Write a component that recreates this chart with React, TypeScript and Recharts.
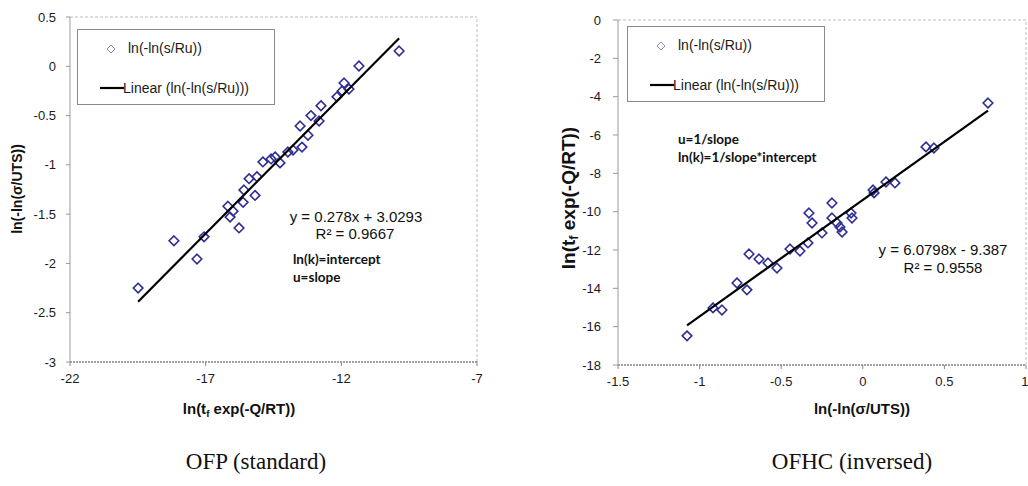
import React from "react";
import { Legend, ReferenceLine, Scatter, ScatterChart, XAxis, YAxis } from "recharts";

// OFP (standard): x = ln(tf exp(-Q/RT)), y = ln(-ln(sigma/UTS))
const ofpX = [-19.49, -18.17, -17.32, -17.06, -16.18, -16.1, -15.99, -15.77, -15.62, -15.59, -15.4, -15.18, -15.11, -14.89, -14.59, -14.44, -14.26, -13.97, -13.78, -13.52, -13.45, -13.23, -13.12, -12.82, -12.75, -12.16, -11.97, -11.9, -11.72, -11.35, -9.87];
const ofpY = [-2.25, -1.77, -1.955, -1.73, -1.42, -1.53, -1.47, -1.64, -1.38, -1.255, -1.14, -1.31, -1.12, -0.97, -0.94, -0.92, -0.98, -0.87, -0.85, -0.606, -0.82, -0.7, -0.5, -0.555, -0.4, -0.31, -0.25, -0.17, -0.23, 0.003, 0.155];
const ofpTicksX = [-22, -17, -12, -7];
const ofpTicksY = [0.5, 0, -0.5, -1, -1.5, -2, -2.5, -3];
const ofpFit = { slope: 0.278, intercept: 3.0293 };

// OFHC (inversed): x = ln(-ln(sigma/UTS)), y = ln(tf exp(-Q/RT))
const ofhcX = [-1.077, -0.918, -0.863, -0.771, -0.71, -0.697, -0.636, -0.581, -0.526, -0.446, -0.385, -0.336, -0.33, -0.311, -0.25, -0.189, -0.189, -0.158, -0.14, -0.127, -0.072, -0.066, 0.063, 0.069, 0.142, 0.197, 0.387, 0.436, 0.767];
const ofhcY = [-16.48, -15.02, -15.13, -13.72, -14.08, -12.21, -12.47, -12.68, -12.94, -11.95, -12.05, -11.63, -10.07, -10.59, -11.11, -9.55, -10.33, -10.59, -10.8, -11.06, -10.07, -10.33, -8.87, -9.02, -8.45, -8.5, -6.62, -6.68, -4.33];
const ofhcTicksX = [-1.5, -1, -0.5, 0, 0.5, 1];
const ofhcTicksY = [0, -2, -4, -6, -8, -10, -12, -14, -16, -18];
const ofhcFit = { slope: 6.0798, intercept: -9.387 };

const seriesName = "ln(-ln(s/Ru))";
const fitName = "Linear (ln(-ln(s/Ru)))";

const SANS = "'Liberation Sans', Arial, sans-serif";
const NOTE = "Lato, 'Noto Sans', sans-serif";
const SERIF = "'Liberation Serif', 'Times New Roman', serif";

const points = (xs: number[], ys: number[]) => xs.map((x, i) => ({ x, y: ys[i] }));
const fitLine = (xs: number[], fit: { slope: number; intercept: number }) =>
  [Math.min(...xs), Math.max(...xs)].map((x) => ({ x, y: fit.slope * x + fit.intercept }));

const Diamond = (props: any) => {
  const { cx, cy } = props;
  if (cx == null || cy == null) return <g />;
  const r = 4.8;
  return (
    <path
      d={`M${cx},${cy - r}L${cx + r},${cy}L${cx},${cy + r}L${cx - r},${cy}Z`}
      fill="none"
      stroke="#2d2d95"
      strokeWidth={1.6}
    />
  );
};

const NoDot = () => <g />;

const LegendBox = () => (
  <div
    style={{
      width: 196,
      height: 74,
      border: "1px solid #8a8a8a",
      background: "#fff",
      position: "relative",
      fontFamily: SANS,
      fontSize: 14,
      color: "#1a1a1a",
      lineHeight: 1,
    }}
  >
    <svg width={14} height={14} style={{ position: "absolute", left: 26, top: 12 }}>
      <path d="M7,3L11,7L7,11L3,7Z" fill="none" stroke="#8c8cc8" strokeWidth={1} />
    </svg>
    <span style={{ position: "absolute", left: 50, top: 11 }}>{seriesName}</span>
    <svg width={24} height={6} style={{ position: "absolute", left: 22, top: 55 }}>
      <line x1={0} y1={3} x2={24} y2={3} stroke="#000" strokeWidth={2.2} />
    </svg>
    <span style={{ position: "absolute", left: 45, top: 51 }}>{fitName}</span>
  </div>
);

const TitleText = ({ size, sub }: { size: number; sub?: boolean }) =>
  sub ? (
    <>
      <tspan>ln(t</tspan>
      <tspan fontSize={size * 0.65} dy={size * 0.25}>f</tspan>
      <tspan dy={-size * 0.25}> exp(-Q/RT))</tspan>
    </>
  ) : (
    <>{"ln(-ln(\u03c3/UTS))"}</>
  );

const YTitle = ({ tx, ty, size, sub }: any) => (
  <text
    x={tx}
    y={ty}
    transform={`rotate(-90 ${tx} ${ty})`}
    textAnchor="middle"
    dominantBaseline="middle"
    fontFamily={SANS}
    fontWeight="bold"
    fontSize={size}
    fill="#111"
  >
    <TitleText size={size} sub={sub} />
  </text>
);

const XTitle = ({ tx, ty, size, sub }: any) => (
  <text x={tx} y={ty} textAnchor="middle" dominantBaseline="middle" fontFamily={SANS} fontWeight="bold" fontSize={size} fill="#111">
    <TitleText size={size} sub={sub} />
  </text>
);

const tickStyle = { fill: "#1a1a1a", fontSize: 13, fontFamily: SANS };

const abs = (left: number, top: number, extra: React.CSSProperties = {}): React.CSSProperties => ({
  position: "absolute",
  left,
  top,
  lineHeight: 1,
  whiteSpace: "nowrap",
  ...extra,
});

const eqStyle = (center: boolean): React.CSSProperties => ({
  transform: center ? "translate(-50%,-50%)" : "translateY(-50%)",
  fontFamily: SANS,
  fontSize: 15,
  color: "#111",
});

const noteStyle: React.CSSProperties = {
  transform: "translateY(-50%)",
  fontFamily: NOTE,
  fontWeight: 700,
  fontSize: 13.5,
  color: "#111",
};

export default function App() {
  return (
    <div style={{ position: "absolute", left: 0, top: 0, width: 1028, height: 486, background: "#fff", overflow: "hidden" }}>
      <div style={abs(0, 0)}>
        <ScatterChart width={500} height={430} margin={{ top: 17, right: 23, bottom: 8, left: 0 }}>
          <XAxis
            type="number"
            dataKey="x"
            domain={[-22, -7]}
            ticks={ofpTicksX}
            allowDataOverflow
            height={60}
            tickSize={4}
            tickMargin={8}
            tick={tickStyle}
            axisLine={{ stroke: "#444", strokeDasharray: "2 1" }}
            tickLine={{ stroke: "#888" }}
            label={<XTitle tx={239} ty={410} size={15} sub />}
          />
          <YAxis
            type="number"
            dataKey="y"
            domain={[-3, 0.5]}
            ticks={ofpTicksY}
            allowDataOverflow
            width={70}
            tickSize={4}
            tickMargin={10}
            tick={tickStyle}
            axisLine={{ stroke: "#999" }}
            tickLine={{ stroke: "#999" }}
            label={<YTitle tx={18} ty={189} size={14} />}
          />
          <ReferenceLine y={0.5} stroke="#bdbdbd" strokeDasharray="3 2" />
          <ReferenceLine x={-7} stroke="#bdbdbd" strokeDasharray="3 2" />
          <Legend
            layout="vertical"
            align="center"
            verticalAlign="middle"
            content={<LegendBox />}
            wrapperStyle={{ left: 77, top: 29, width: 198, height: 76 }}
          />
          <Scatter name={seriesName} data={points(ofpX, ofpY)} shape={<Diamond />} isAnimationActive={false} />
          <Scatter
            name={fitName}
            data={fitLine(ofpX, ofpFit)}
            line={{ stroke: "#000", strokeWidth: 2.2 }}
            shape={<NoDot />}
            isAnimationActive={false}
          />
        </ScatterChart>
      </div>

      <div style={abs(540, 0)}>
        <ScatterChart width={488} height={430} margin={{ top: 20, right: 2, bottom: 5, left: 0 }}>
          <XAxis
            type="number"
            dataKey="x"
            domain={[-1.5, 1]}
            ticks={ofhcTicksX}
            allowDataOverflow
            height={60}
            tickSize={4}
            tickMargin={8}
            tick={tickStyle}
            axisLine={{ stroke: "#444", strokeDasharray: "2 1" }}
            tickLine={{ stroke: "#888" }}
            label={<XTitle tx={322} ty={410} size={15} />}
          />
          <YAxis
            type="number"
            dataKey="y"
            domain={[-18, 0]}
            ticks={ofhcTicksY}
            allowDataOverflow
            width={78}
            tickSize={5}
            tickMargin={12}
            tick={tickStyle}
            axisLine={{ stroke: "#999" }}
            tickLine={{ stroke: "#999" }}
            label={<YTitle tx={30} ty={198} size={19} sub />}
          />
          <ReferenceLine y={0} stroke="#bdbdbd" strokeDasharray="3 2" />
          <ReferenceLine x={1} stroke="#bdbdbd" strokeDasharray="3 2" />
          <Legend
            layout="vertical"
            align="center"
            verticalAlign="middle"
            content={<LegendBox />}
            wrapperStyle={{ left: 87, top: 26, width: 198, height: 76 }}
          />
          <Scatter name={seriesName} data={points(ofhcX, ofhcY)} shape={<Diamond />} isAnimationActive={false} />
          <Scatter
            name={fitName}
            data={fitLine(ofhcX, ofhcFit)}
            line={{ stroke: "#000", strokeWidth: 2.2 }}
            shape={<NoDot />}
            isAnimationActive={false}
          />
        </ScatterChart>
      </div>

      {/* trendline equations and notes */}
      <div style={abs(356, 216, eqStyle(true))}>y = 0.278x + 3.0293</div>
      <div style={abs(355, 233, eqStyle(true))}>R² = 0.9667</div>
      <div style={abs(293, 260, noteStyle)}>ln(k)=intercept</div>
      <div style={abs(293, 278, noteStyle)}>u=slope</div>

      <div style={abs(678, 140, noteStyle)}>u=1/slope</div>
      <div style={abs(678, 158, noteStyle)}>ln(k)=1/slope*intercept</div>
      <div style={abs(943, 249, eqStyle(true))}>y = 6.0798x - 9.387</div>
      <div style={abs(943, 267, eqStyle(true))}>R² = 0.9558</div>

      {/* panel captions */}
      <div style={abs(256, 461, { transform: "translate(-50%,-50%)", fontFamily: SERIF, fontSize: 23, color: "#111" })}>
        OFP (standard)
      </div>
      <div style={abs(852, 461, { transform: "translate(-50%,-50%)", fontFamily: SERIF, fontSize: 23, color: "#111" })}>
        OFHC (inversed)
      </div>
    </div>
  );
}
